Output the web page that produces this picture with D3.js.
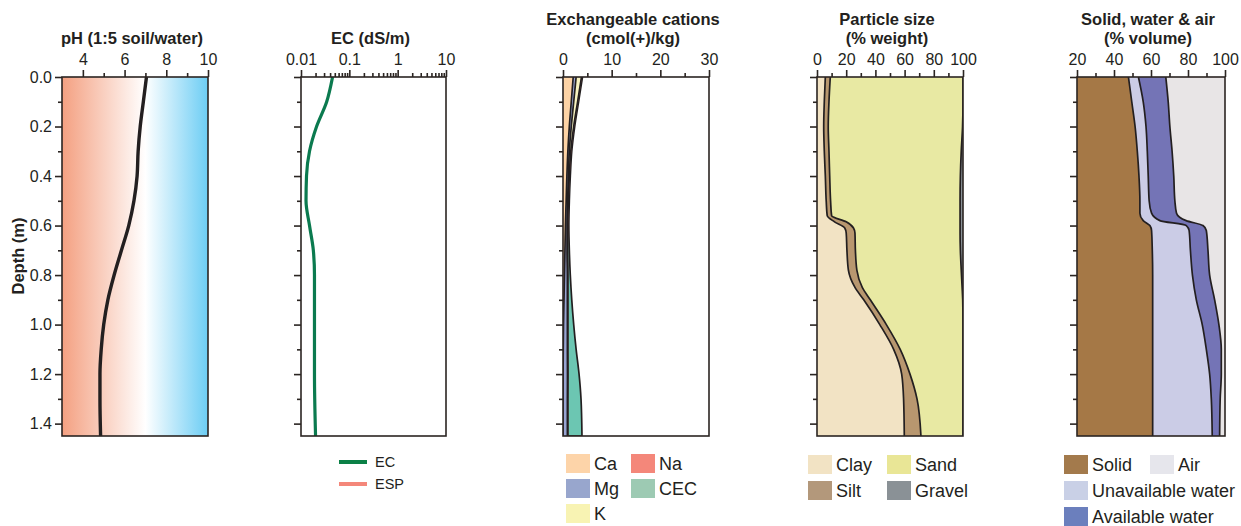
<!DOCTYPE html>
<html>
<head>
<meta charset="utf-8">
<script src="https://cdn.jsdelivr.net/npm/d3@7"></script>
<style>
body{margin:0;background:#fff}
text{font-family:"Liberation Sans",Arial,Helvetica,sans-serif;fill:#231f20}
</style>
</head>
<body>
<svg id="chart" width="1241" height="526"></svg>
<script>
// depth axis (shared)
var depthMajor = [0,0.2,0.4,0.6,0.8,1.0,1.2,1.4]
var depthMinor = [0.1,0.3,0.5,0.7,0.9,1.1,1.3]

// pH
var phDepth = [0,0.1,0.2,0.3,0.4,0.5,0.6,0.7,0.8,0.9,1.0,1.1,1.2,1.3,1.45]
var phValues = [7.05,6.9,6.75,6.65,6.6,6.45,6.2,5.85,5.5,5.2,5.0,4.88,4.82,4.82,4.85]
var phMajor = [4,6,8,10]
var phMinor = [5,7,9]

// EC
var ecDepth = [0,0.1,0.2,0.3,0.4,0.5,0.6,0.7,0.8,1.0,1.2,1.45]
var ecValues = [0.045,0.034,0.021,0.015,0.013,0.0127,0.015,0.018,0.019,0.019,0.019,0.02]
var ecMajor = [0.01,0.1,1,10]
var ecMinor = [0.02,0.03,0.04,0.05,0.06,0.07,0.08,0.09,0.2,0.3,0.4,0.5,0.6,0.7,0.8,0.9,2,3,4,5,6,7,8,9]

// exchangeable cations
var cationDepth = [0,0.1,0.2,0.3,0.4,0.5,0.6,0.7,0.8,0.9,1.0,1.1,1.2,1.3,1.45]
var caValues  = [2.1,1.7,1.3,1.0,0.8,0.65,0.5,0.4,0.3,0.2,0.1,0.05,0.02,0,0]
var mgValues  = [0.6,0.5,0.4,0.3,0.3,0.3,0.35,0.45,0.6,0.7,0.8,0.85,0.9,0.9,0.9]
var kValues   = [1.1,0.8,0.5,0.3,0.2,0.15,0.1,0.1,0.1,0.1,0.1,0.1,0.1,0.1,0.1]
var naValues  = [0.1,0.1,0.1,0.1,0.1,0.1,0.1,0.1,0.1,0.1,0.1,0.1,0.1,0.1,0.1]
var cecValues = [4.0,3.2,2.4,1.8,1.5,1.3,1.2,1.3,1.5,1.8,2.2,2.7,3.3,3.7,3.9]
var cationMajor = [0,10,20,30]
var cationMinor = [5,15,25]

// particle size
var psDepth  = [0,0.1,0.2,0.3,0.4,0.5,0.56,0.585,0.61,0.63,0.7,0.78,0.85,0.9,1.0,1.1,1.2,1.3,1.45]
var clayValues   = [5.7,5.0,4.6,5.0,5.7,6.3,7.0,12,19,20,20.5,21.5,26,32,43,52.5,58,59.3,59.8]
var siltValues   = [3.4,3.2,3.1,3.2,3.0,3.0,3.0,8.0,6.0,6.0,5.8,5.8,5.0,4.5,4.5,4.5,5.7,9.2,11.4]
var sandValues   = [90.9,91.8,92.0,90.6,89.5,88.7,88,78,73,72,71.9,71.5,68.4,63.3,52.5,43,36.3,31.5,28.8]
var gravelValues = [0,0,0.3,1.2,1.8,2,2,2,2,2,1.8,1.2,0.6,0.2,0,0,0,0,0]
var psMajor = [0,20,40,60,80,100]
var psMinor = [10,30,50,70,90]

// solid, water & air
var swaDepth = [0,0.1,0.2,0.3,0.4,0.5,0.55,0.58,0.6,0.62,0.7,0.8,0.9,1.0,1.1,1.2,1.3,1.45]
var solidValues   = [47.8,49.6,51.4,52.6,53.5,54,54,55.8,59.4,60.3,60.7,60.9,60.9,60.9,60.9,60.9,60.9,60.9]
var unavailValues = [5.4,6.2,5.9,5.4,5.0,5.0,6.3,9.0,19.7,20.3,20.6,21.5,23.6,26.8,29.0,30.8,31.7,32.2]
var availValues   = [14.8,13.5,12.9,13.4,13.8,13.9,13.5,14.2,9.0,9.3,9.5,9.3,9.9,9.0,8.1,6.3,4.8,4.0]
var airValues     = [32,30.7,29.8,28.6,27.7,27.1,26.2,21,11.9,10.1,9.2,8.3,5.6,3.3,2,2,2.6,2.9]
var swaMajor = [20,40,60,80,100]
var swaMinor = [30,50,70,90]

var ink = "#2b2522"
var plotTop = 77, plotBottom = 436
var y = d3.scaleLinear().domain([0,1.45]).range([plotTop,plotBottom])
var svg = d3.select("#chart")
var defs = svg.append("defs")

function styleAxis(g){
	g.select(".domain").remove()
	g.selectAll("line").attr("stroke",ink).attr("stroke-width",1.6)
	g.selectAll("text").attr("font-size",16).attr("font-family",null).attr("fill","#231f20")
}

function panel(id,x0,x1,x,titles,major,minor,fmt,withLabels){
	var g = svg.append("g")
	defs.append("clipPath").attr("id","clip-"+id)
		.append("rect").attr("x",x0).attr("y",plotTop).attr("width",x1-x0).attr("height",plotBottom-plotTop)
	var plot = g.append("g").attr("clip-path","url(#clip-"+id+")")

	// depth ticks
	g.append("g").attr("transform","translate("+x0+",0)")
		.call(d3.axisLeft(y).tickValues(depthMinor).tickSize(4).tickFormat(""))
		.call(styleAxis)
	g.append("g").attr("transform","translate("+x0+",0)")
		.call(d3.axisLeft(y).tickValues(depthMajor).tickSize(7).tickPadding(3)
			.tickFormat(withLabels ? d3.format(".1f") : ""))
		.call(styleAxis)

	// value ticks
	g.append("g").attr("transform","translate(0,"+plotTop+")")
		.call(d3.axisTop(x).tickValues(minor).tickSize(4).tickFormat(""))
		.call(styleAxis)
	g.append("g").attr("transform","translate(0,"+plotTop+")")
		.call(d3.axisTop(x).tickValues(major).tickSize(7).tickPadding(5).tickFormat(fmt))
		.call(styleAxis)

	var cx = (x0+x1)/2 - 3
	titles.forEach(function(t,i){
		g.append("text").attr("x",cx).attr("y",titles.length==2 ? 25+i*19 : 44)
			.attr("text-anchor","middle").attr("font-weight","bold").attr("font-size",16.5).text(t)
	})
	return {g:g,plot:plot,frame:function(){
		g.append("rect").attr("x",x0).attr("y",plotTop).attr("width",x1-x0).attr("height",plotBottom-plotTop)
			.attr("fill","none").attr("stroke",ink).attr("stroke-width",1.6)
	}}
}

function stackedPanel(p,x,depths,keys,series,colors){
	var rows = depths.map(function(d,i){
		var r = {depth:d}
		keys.forEach(function(k,j){ r[k] = series[j][i] })
		return r
	})
	var layers = d3.stack().keys(keys)(rows)
	var area = d3.area().curve(d3.curveMonotoneY)
		.y(function(d){return y(d.data.depth)})
		.x0(function(d){return x(d[0])})
		.x1(function(d){return x(d[1])})
	var edge = d3.line().curve(d3.curveMonotoneY)
		.y(function(d){return y(d.data.depth)})
		.x(function(d){return x(d[1])})
	p.plot.selectAll(null).data(layers).enter().append("path")
		.attr("d",area).attr("fill",function(d,i){return colors[i]})
	p.plot.selectAll(null).data(layers.slice(0,-1)).enter().append("path")
		.attr("d",edge).attr("fill","none").attr("stroke","#231f20").attr("stroke-width",1.7)
}

function legend(items,x0,colW,y0,rowH){
	items.forEach(function(it){
		var lx = x0 + it.col*colW, ly = y0 + it.row*rowH
		svg.append("rect").attr("x",lx).attr("y",ly).attr("width",24).attr("height",19).attr("fill",it.color)
		svg.append("text").attr("x",lx+28).attr("y",ly+16).attr("font-size",18).text(it.label)
	})
}

// ---- pH ----
var xPh = d3.scaleLinear().domain([3,10]).range([62,208])
var pPh = panel("ph",62,208,xPh,["pH (1:5 soil/water)"],phMajor,phMinor,d3.format("d"),true)
var grad = defs.append("linearGradient").attr("id","phGrad").attr("gradientUnits","userSpaceOnUse")
	.attr("x1",xPh(3)).attr("x2",xPh(10)).attr("y1",0).attr("y2",0)
var gradStops = [[3,"#f4a081"],[7,"#ffffff"],[10,"#6ccdf4"]]
gradStops.forEach(function(s){
	grad.append("stop").attr("offset",(s[0]-3)/7).attr("stop-color",s[1])
})
pPh.plot.append("rect").attr("x",62).attr("y",plotTop).attr("width",146).attr("height",plotBottom-plotTop).attr("fill","url(#phGrad)")
pPh.plot.append("path")
	.datum(phDepth.map(function(d,i){return [phValues[i],d]}))
	.attr("d",d3.line().curve(d3.curveMonotoneY).x(function(d){return xPh(d[0])}).y(function(d){return y(d[1])}))
	.attr("fill","none").attr("stroke","#231f20").attr("stroke-width",3.4)
pPh.frame()
svg.append("text").attr("transform","translate(24,256) rotate(-90)").attr("text-anchor","middle")
	.attr("font-weight","bold").attr("font-size",16.5).text("Depth (m)")

// ---- EC ----
var xEc = d3.scaleLog().domain([0.01,10]).range([301,446])
var pEc = panel("ec",301,446,xEc,["EC (dS/m)"],ecMajor,ecMinor,function(d){return String(d)},false)
pEc.plot.append("path")
	.datum(ecDepth.map(function(d,i){return [ecValues[i],d]}))
	.attr("d",d3.line().curve(d3.curveMonotoneY).x(function(d){return xEc(d[0])}).y(function(d){return y(d[1])}))
	.attr("fill","none").attr("stroke","#0b7a4f").attr("stroke-width",3.2)
pEc.frame()
var ecLegend = [["EC","#0b8046"],["ESP","#f4877a"]]
ecLegend.forEach(function(l,i){
	svg.append("line").attr("x1",339).attr("x2",367).attr("y1",462+i*22).attr("y2",462+i*22)
		.attr("stroke",l[1]).attr("stroke-width",4)
	svg.append("text").attr("x",375).attr("y",467+i*22).attr("font-size",14.5).text(l[0])
})

// ---- exchangeable cations ----
var xCat = d3.scaleLinear().domain([0,30]).range([563,709])
var pCat = panel("cat",563,709,xCat,["Exchangeable cations","(cmol(+)/kg)"],cationMajor,cationMinor,d3.format("d"),false)
pCat.plot.append("path")
	.datum(cationDepth.map(function(d,i){return [cecValues[i],d]}))
	.attr("d",d3.area().curve(d3.curveMonotoneY).y(function(d){return y(d[1])}).x0(xCat(0)).x1(function(d){return xCat(d[0])}))
	.attr("fill","#6cc6b2").attr("stroke","#231f20").attr("stroke-width",1.7)
stackedPanel(pCat,xCat,cationDepth,["Ca","Mg","K","Na"],[caValues,mgValues,kValues,naValues],
	["#fdd3a5","#98a4d2","#f8f3c0","#f4877a"])
pCat.frame()
legend([
	{label:"Ca",color:"#fdd4a9",row:0,col:0},
	{label:"Na",color:"#f4877a",row:0,col:1},
	{label:"Mg",color:"#98a6cd",row:1,col:0},
	{label:"CEC",color:"#9dcab3",row:1,col:1},
	{label:"K",color:"#f8f3b3",row:2,col:0}
],566,65,454,25)

// ---- particle size ----
var xPs = d3.scaleLinear().domain([0,100]).range([817,963])
var pPs = panel("ps",817,963,xPs,["Particle size","(% weight)"],psMajor,psMinor,d3.format("d"),false)
stackedPanel(pPs,xPs,psDepth,["Clay","Silt","Sand","Gravel"],[clayValues,siltValues,sandValues,gravelValues],
	["#f2e3c4","#b8976f","#e8e9a3","#8b9297"])
pPs.frame()
legend([
	{label:"Clay",color:"#f2e3c4",row:0,col:0},
	{label:"Sand",color:"#e9e696",row:0,col:1},
	{label:"Silt",color:"#b3987b",row:1,col:0},
	{label:"Gravel",color:"#8a9196",row:1,col:1}
],808,79,455,26)

// ---- solid, water & air ----
var xSwa = d3.scaleLinear().domain([20,100]).range([1077,1225])
var pSwa = panel("swa",1077,1225,xSwa,["Solid, water & air","(% volume)"],swaMajor,swaMinor,d3.format("d"),false)
stackedPanel(pSwa,xSwa,swaDepth,["Solid","Unavailable water","Available water","Air"],
	[solidValues,unavailValues,availValues,airValues],
	["#a57846","#cbcce6","#7474b6","#e8e5e6"])
pSwa.frame()
legend([
	{label:"Solid",color:"#a37a4c",row:0,col:0},
	{label:"Air",color:"#e6e6ec",row:0,col:1},
	{label:"Unavailable water",color:"#c9d0e6",row:1,col:0},
	{label:"Available water",color:"#6b7fbd",row:2,col:0}
],1064,86,455,26)
</script>
</body>
</html>
